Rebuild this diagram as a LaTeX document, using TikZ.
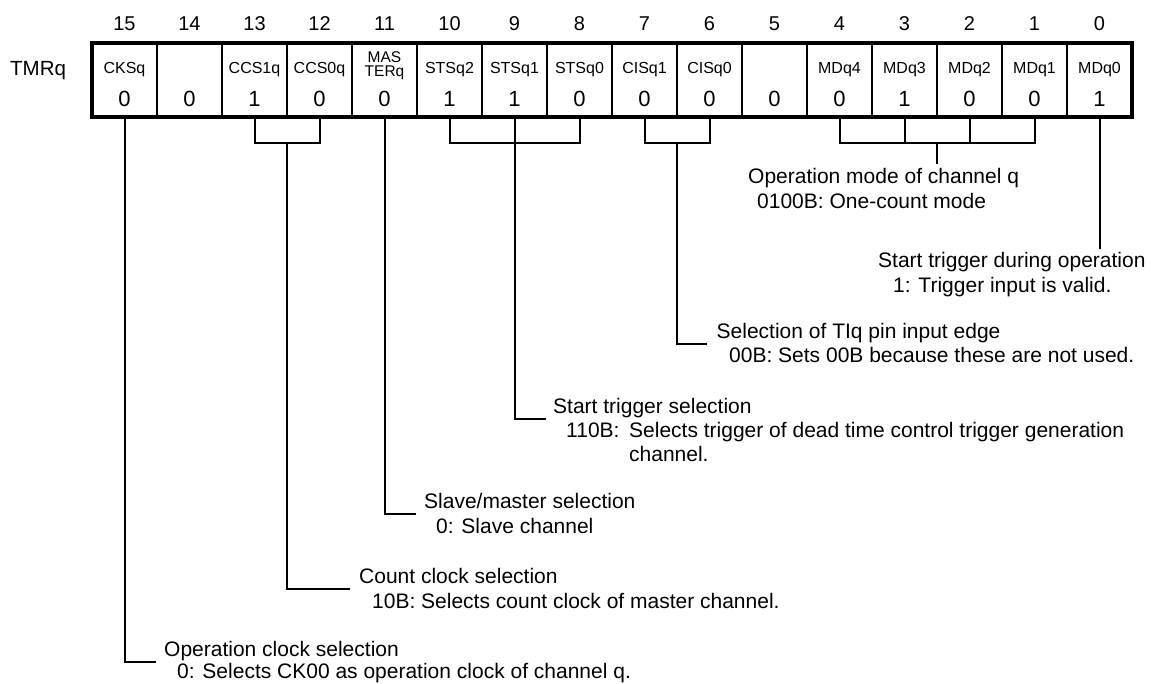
\documentclass[tikz,border=0pt]{standalone}
\usepackage{fontspec}
\setmainfont{Liberation Sans}
\tikzset{
  cellbox/.style={draw, line width=1.5pt, minimum width=65pt, minimum height=74pt, outer sep=0pt, inner sep=0pt},
  bitnum/.style={font=\fontsize{20}{24}\selectfont, anchor=base, inner sep=0pt},
  fname/.style={font=\fontsize{16}{19}\selectfont, anchor=base, inner sep=0pt},
  fsmall/.style={font=\fontsize{15.5}{17}\selectfont, anchor=base, inner sep=0pt},
  fval/.style={font=\fontsize{22}{26}\selectfont, anchor=base, inner sep=0pt},
  desc/.style={font=\fontsize{21}{25}\selectfont, anchor=base west, inner sep=0pt},
  conn/.style={line width=2pt},
}
\begin{document}
\begin{tikzpicture}[x=1pt,y=-1pt]
\useasboundingbox (0,0) rectangle (1151,683);
% register label
\node[font=\fontsize{20.5}{24}\selectfont, anchor=base west, inner sep=0pt] (reg) at (10,75) {TMRq};
% cells
\foreach \i in {0,...,15} {
  \node[cellbox] (cell\i) at ({124.5+65*(15-\i)},80) {};
  \node[bitnum] (n\i) at ({124.5+65*(15-\i)},30) {\i};
}
\foreach \i/\nm/\v in {15/CKSq/0,14//0,13/CCS1q/1,12/CCS0q/0,11//0,10/STSq2/1,9/STSq1/1,8/STSq0/0,7/CISq1/0,6/CISq0/0,5//0,4/MDq4/0,3/MDq3/1,2/MDq2/0,1/MDq1/0,0/MDq0/1} {
  \node[fname] (f\i) at ({124.5+65*(15-\i)},73.3) {\nm};
  \node[fval] (v\i) at ({124.5+65*(15-\i)},106.7) {\v};
}
\node[fsmall] (mas) at (384.5,62.5) {MAS};
\node[fsmall] (ter) at (384.5,76) {TERq};
\draw[line width=3.5pt] (cell15.north west) rectangle (cell0.south east);

% bracket coordinates
\coordinate (bCCS) at (287,143);
\coordinate (bSTS) at (514.5,143);
\coordinate (bCIS) at (677,143);
\coordinate (bMD) at (937,143);
% ends
\coordinate (e15) at (156,662);
\coordinate (e13) at (350,589);
\coordinate (e11) at (416,513.5);
\coordinate (e9) at (545.5,419);
\coordinate (e7) at (707,344);
\coordinate (e4) at (937,163.5);
\coordinate (e0) at (1099.5,248.5);

% connectors
\draw[conn] (cell15.south) |- (e15);
\draw[conn] (cell13.south) |- (bCCS) -| (cell12.south);
\draw[conn] (bCCS) |- (e13);
\draw[conn] (cell11.south) |- (e11);
\draw[conn] (cell10.south) |- (bSTS) -| (cell8.south);
\draw[conn] (cell9.south) |- (e9);
\draw[conn] (cell7.south) |- (bCIS) -| (cell6.south);
\draw[conn] (bCIS) |- (e7);
\draw[conn] (cell4.south) |- (bMD) -| (cell1.south);
\draw[conn] (cell3.south) -- (cell3.south |- bMD);
\draw[conn] (cell2.south) -- (cell2.south |- bMD);
\draw[conn] (bMD) -- (e4);
\draw[conn] (cell0.south) -- (e0);

% descriptions
\node[desc] (d4a) at (748,183) {Operation mode of channel q};
\node[desc] (d4b) at (757,208) {0100B: One-count mode};
\node[desc] (d0a) at (878,267) {Start trigger during operation};
\node[desc] (d0b) at (893,292) {1: Trigger input is valid.};
\node[desc] (d7a) at (716.5,338) {Selection of TIq pin input edge};
\node[desc] (d7b) at (729,362) {00B: Sets 00B because these are not used.};
\node[desc] (d9a) at (553,413) {Start trigger selection};
\node[desc] (d9b) at (566,437) {110B:};
\node[desc] (d9c) at (629,437) {Selects trigger of dead time control trigger generation};
\node[desc] (d9d) at (629,461) {channel.};
\node[desc] (d11a) at (424,508) {Slave/master selection};
\node[desc] (d11b) at (436,533) {0: Slave channel};
\node[desc] (d13a) at (359,583) {Count clock selection};
\node[desc] (d13b) at (372,608) {10B: Selects count clock of master channel.};
\node[desc] (d15a) at (164,656) {Operation clock selection};
\node[desc] (d15b) at (177,678) {0: Selects CK00 as operation clock of channel q.};
\end{tikzpicture}
\end{document}
